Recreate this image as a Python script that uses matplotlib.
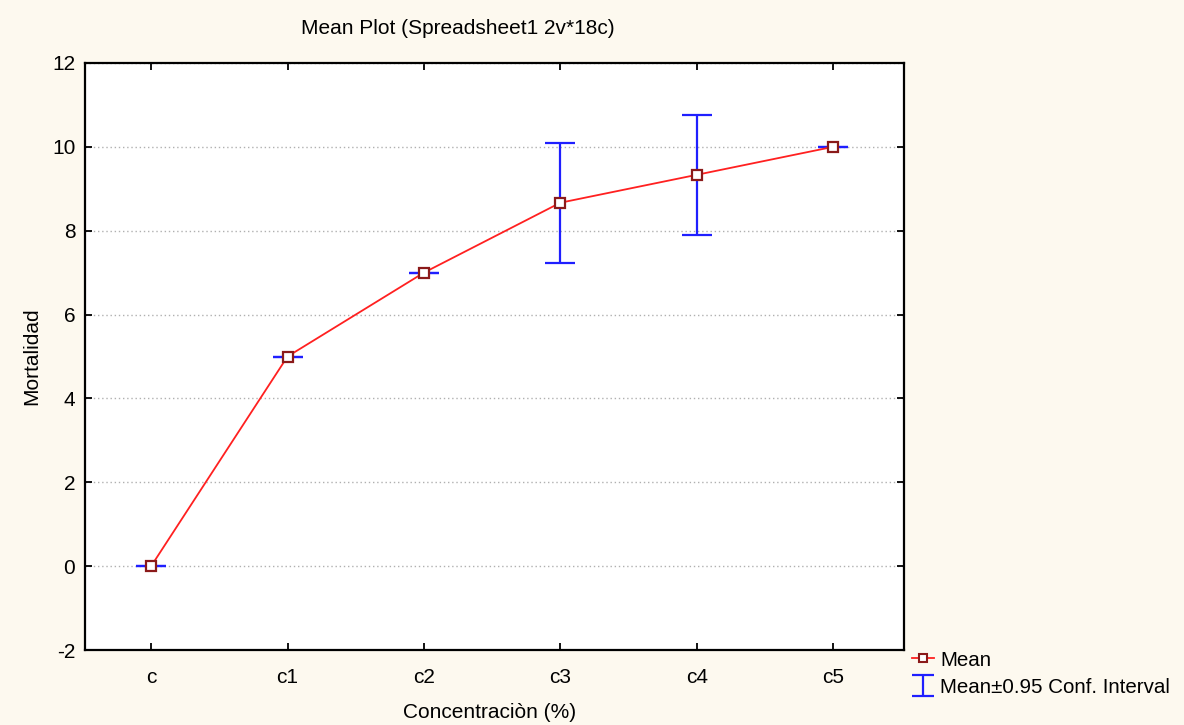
import matplotlib.pyplot as plt
import numpy as np

plt.rcParams['font.family'] = ['Liberation Sans', 'DejaVu Sans']
plt.rcParams['axes.unicode_minus'] = False

# datos
grupos = ['c', 'c1', 'c2', 'c3', 'c4', 'c5']
medias = [0.0, 5.0, 7.0, 8.667, 9.333, 10.0]
ic_bajo = [0.0, 5.0, 7.0, 7.23, 7.90, 10.0]
ic_alto = [0.0, 5.0, 7.0, 10.10, 10.77, 10.0]

fondo = '#fdf9ef'
fs = 15
fig = plt.figure(figsize=(11.84, 7.25), dpi=100, facecolor=fondo)
ax = fig.add_axes([85/1184, 1 - 650/725, (904-85)/1184, (650-63)/725])

x = np.arange(len(grupos))
med = np.array(medias)
err = [med - np.array(ic_bajo), np.array(ic_alto) - med]

#Intervalos de confianza
ax.errorbar(x, med, yerr=err, fmt='none', ecolor='#1f1fff', elinewidth=1.6,
            capsize=10.5, capthick=1.6, zorder=2)
#Medias
ax.plot(x, med, color='#ff2020', lw=1.3, marker='s', ms=7, mfc='white',
        mec='#8b1a1a', mew=1.6, zorder=3)

ax.set_xlim(-0.485, 5.52)
ax.set_ylim(-2, 12)
ax.set_yticks(range(-2, 13, 2))
ax.set_xticks(x)
ax.set_xticklabels(grupos)
ax.tick_params(direction='in', length=5, width=1.3, labelsize=fs, pad=7,
               top=True, right=True)
ax.tick_params(axis='x', pad=13)
ax.grid(axis='y', color='#b0b0b0', ls=(0, (1, 2)), lw=1)
for s in ax.spines.values():
    s.set_linewidth(1.6)

ax.set_ylabel('Mortalidad', fontsize=fs, labelpad=8)
fig.text(458/1184, 1 - 28/725, 'Mean Plot (Spreadsheet1 2v*18c)', ha='center',
         va='center', fontsize=fs)
fig.text(490/1184, 1 - 712/725, 'Concentraciòn (%)', ha='center',
         va='center', fontsize=fs)

# leyenda
h1, = ax.plot([], [], color='#ff2020', lw=1.3, marker='s', ms=6, mfc='white',
              mec='#8b1a1a', mew=1.5)
h2 = ax.errorbar([np.nan], [np.nan], yerr=[1], fmt='none', ecolor='#1f1fff',
                 elinewidth=1.6, capsize=8, capthick=1.6)
fig.legend([h1, h2], ['Mean', 'Mean±0.95 Conf. Interval'], loc='upper left',
           bbox_to_anchor=(893/1184, 1 - 632/725), frameon=False, fontsize=14.8,
           handlelength=1.1, handletextpad=0.3, labelspacing=0.4)

fig.savefig('out.png', dpi=100, facecolor=fondo)
